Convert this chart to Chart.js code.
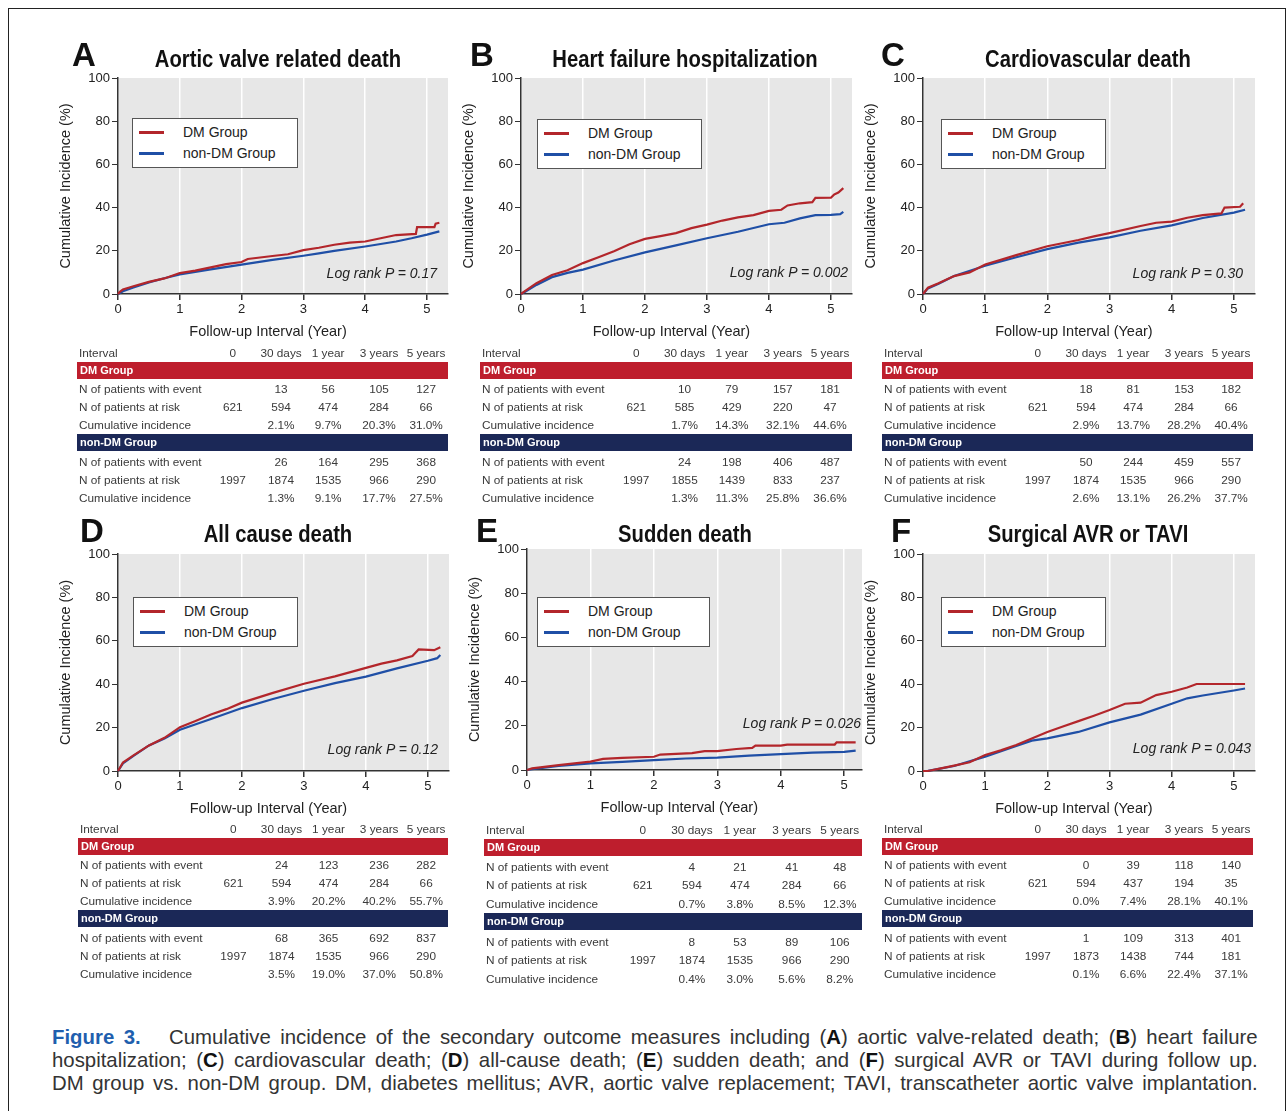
<!DOCTYPE html>
<html>
<head>
<meta charset="utf-8">
<script src="https://cdn.jsdelivr.net/npm/chart.js@4.4.1/dist/chart.umd.min.js"></script>
<style>
  body { margin: 0; background: #fff; width: 1288px; height: 1111px; position: relative; overflow: hidden;
         font-family: "Liberation Sans", Arial, sans-serif; }
  .frame { position: absolute; left: 8px; top: 8px; width: 1276px; height: 1130px; border: 1px solid #222; }
  .abs { position: absolute; white-space: nowrap; line-height: 1; }
  .letter { font-weight: bold; font-size: 33px; color: #111; }
  .ptitle { font-weight: bold; font-size: 23px; color: #111; transform: translate(-50%, -50%) scaleX(0.88); }
  .xtitle { font-size: 14.5px; color: #222; transform: translate(-50%, -50%); }
  .legend { position: absolute; border: 1px solid #555; background: #fff; }
  .legend .sw { position: absolute; left: 6px; width: 25px; height: 2.5px; }
  .legend .lt { position: absolute; left: 50px; font-size: 14px; color: #222; transform: translateY(-50%); line-height: 1; }
  .logrank { font-style: italic; font-size: 14px; color: #222; transform: translateY(-50%); }
  .tt { position: absolute; font-size: 11.8px; color: #3a3a3a; line-height: 1; white-space: nowrap; transform: translateY(-50%); }
  .tc { transform: translate(-50%, -50%); }
  .bar { position: absolute; color: #fff; font-weight: bold; font-size: 11px; }
  .bar span { position: absolute; left: 3px; top: 50%; transform: translateY(-50%); line-height: 1; }
  .caption { position: absolute; left: 52px; width: 1243px; transform: scaleX(0.97); transform-origin: 0 0;
             font-size: 21px; color: #333; line-height: 23px; }
  .caption div { text-align: justify; text-align-last: justify; white-space: nowrap; }
  .caption b { color: #111; }
  .caption .fig { color: #1f5fae; font-weight: bold; }
</style>
</head>
<body>
<div class="frame"></div>
<div id="root"></div>
<script>
// ---- data ----
const intervals = ['0', '30 days', '1 year', '3 years', '5 years'];
const rowLabels = ['N of patients with event', 'N of patients at risk', 'Cumulative incidence'];
const panelLetters = ['A', 'B', 'C', 'D', 'E', 'F'];
const panelTitles = ['Aortic valve related death', 'Heart failure hospitalization', 'Cardiovascular death',
                     'All cause death', 'Sudden death', 'Surgical AVR or TAVI'];
const logRankP = ['0.17', '0.002', '0.30', '0.12', '0.026', '0.043'];

// cumulative incidence curves, [year, %]
const dmA = [[0,0],[0.03,1],[0.08,2.1],[0.25,3.6],[0.5,5.6],[0.75,7.2],[1,9.7],[1.25,10.8],[1.5,12.3],[1.75,13.8],[2,14.8],[2.1,16.2],[2.5,17.6],[2.75,18.4],[3,20.3],[3.25,21.4],[3.5,22.8],[3.75,23.8],[4,24.3],[4.25,25.8],[4.5,27.3],[4.82,27.8],[4.84,31],[5.12,31],[5.14,32.6],[5.2,33]];
const nonA = [[0,0],[0.08,1.3],[0.25,3],[0.5,5.4],[0.75,7.3],[1,9.1],[1.5,11.4],[2,13.6],[2.5,15.8],[3,17.7],[3.25,18.8],[3.5,20],[4,22],[4.5,24.3],[4.75,25.8],[5,27.5],[5.2,29]];
const dmB = [[0,0],[0.08,1.7],[0.25,5],[0.5,8.8],[0.75,11],[1,14.3],[1.25,17],[1.5,19.8],[1.75,23],[2,25.5],[2.25,26.8],[2.5,28.2],[2.75,30.5],[3,32.1],[3.25,34],[3.5,35.5],[3.75,36.5],[4,38.5],[4.2,39],[4.3,41],[4.5,42],[4.7,42.5],[4.75,44.5],[5,44.6],[5.05,46],[5.12,47],[5.2,49]];
const nonB = [[0,0],[0.08,1.3],[0.25,4.2],[0.5,7.8],[0.75,9.8],[1,11.3],[1.5,15.5],[2,19.3],[2.5,22.5],[3,25.8],[3.5,28.8],[4,32.3],[4.25,33],[4.5,35],[4.75,36.5],[5,36.6],[5.15,37],[5.2,38]];
const dmC = [[0,0],[0.08,2.9],[0.25,5],[0.5,8.3],[0.75,10],[1,13.7],[1.25,15.8],[1.5,18],[2,22.1],[2.5,25],[2.75,26.7],[3,28.2],[3.5,31.5],[3.75,33],[4,33.5],[4.25,35.3],[4.5,36.5],[4.8,37.3],[4.85,40],[5.1,40.4],[5.15,42]];
const nonC = [[0,0],[0.08,2.6],[0.25,4.8],[0.5,8.3],[1,13.1],[1.5,17],[2,20.8],[2.5,23.8],[3,26.2],[3.5,29.3],[4,31.8],[4.5,35.2],[5,37.7],[5.18,39]];
const dmD = [[0,0],[0.08,3.9],[0.25,7.2],[0.5,11.8],[0.75,15.3],[1,20.2],[1.25,23],[1.5,26],[1.75,28.5],[2,31.5],[2.5,36],[3,40.2],[3.5,43.6],[4,47.5],[4.25,49.5],[4.5,51],[4.75,53],[4.85,56],[5.1,55.7],[5.2,57]];
const nonD = [[0,0],[0.08,3.5],[0.25,7],[0.5,11.8],[0.75,15],[1,19],[1.5,24],[2,29],[2.5,33.2],[3,37],[3.5,40.5],[4,43.5],[4.5,47.3],[5,50.8],[5.15,52],[5.2,53.5]];
const dmE = [[0,0],[0.08,0.7],[0.5,2.2],[1,3.8],[1.2,5],[1.5,5.5],[2,6],[2.1,7],[2.6,7.6],[2.8,8.5],[3,8.5],[3.3,9.5],[3.55,10],[3.6,11],[4,11],[4.1,11.5],[4.85,11.5],[4.88,12.5],[5.18,12.5]];
const nonE = [[0,0],[0.08,0.4],[0.5,1.8],[1,3],[1.5,3.7],[2,4.5],[2.5,5.2],[3,5.6],[3.5,6.5],[4,7.2],[4.5,7.9],[5,8.2],[5.18,8.8]];
const dmF = [[0,0],[0.08,0],[0.25,1],[0.5,2.5],[0.75,4],[1,7.4],[1.25,9.5],[1.5,12],[1.75,15],[2,18],[2.25,20.5],[2.5,23],[2.75,25.5],[3,28.1],[3.25,31],[3.5,31.5],[3.75,35],[4,36.5],[4.25,38.5],[4.4,40.1],[5.18,40.1]];
const nonF = [[0,0],[0.08,0.1],[0.5,2.3],[1,6.6],[1.5,11.5],[1.75,14],[2,15],[2.5,18],[3,22.4],[3.5,26],[4,31],[4.25,33.5],[4.5,34.8],[5,37.1],[5.18,38]];

// number-at-risk tables: rows = events, at risk, cumulative incidence
const dmTabA = [['', 13, 56, 105, 127], [621, 594, 474, 284, 66], ['', '2.1%', '9.7%', '20.3%', '31.0%']];
const nonTabA = [['', 26, 164, 295, 368], [1997, 1874, 1535, 966, 290], ['', '1.3%', '9.1%', '17.7%', '27.5%']];
const dmTabB = [['', 10, 79, 157, 181], [621, 585, 429, 220, 47], ['', '1.7%', '14.3%', '32.1%', '44.6%']];
const nonTabB = [['', 24, 198, 406, 487], [1997, 1855, 1439, 833, 237], ['', '1.3%', '11.3%', '25.8%', '36.6%']];
const dmTabC = [['', 18, 81, 153, 182], [621, 594, 474, 284, 66], ['', '2.9%', '13.7%', '28.2%', '40.4%']];
const nonTabC = [['', 50, 244, 459, 557], [1997, 1874, 1535, 966, 290], ['', '2.6%', '13.1%', '26.2%', '37.7%']];
const dmTabD = [['', 24, 123, 236, 282], [621, 594, 474, 284, 66], ['', '3.9%', '20.2%', '40.2%', '55.7%']];
const nonTabD = [['', 68, 365, 692, 837], [1997, 1874, 1535, 966, 290], ['', '3.5%', '19.0%', '37.0%', '50.8%']];
const dmTabE = [['', 4, 21, 41, 48], [621, 594, 474, 284, 66], ['', '0.7%', '3.8%', '8.5%', '12.3%']];
const nonTabE = [['', 8, 53, 89, 106], [1997, 1874, 1535, 966, 290], ['', '0.4%', '3.0%', '5.6%', '8.2%']];
const dmTabF = [['', 0, 39, 118, 140], [621, 594, 437, 194, 35], ['', '0.0%', '7.4%', '28.1%', '40.1%']];
const nonTabF = [['', 1, 109, 313, 401], [1997, 1873, 1438, 744, 181], ['', '0.1%', '6.6%', '22.4%', '37.1%']];

const dmCurves = [dmA, dmB, dmC, dmD, dmE, dmF];
const nonCurves = [nonA, nonB, nonC, nonD, nonE, nonF];
const dmTables = [dmTabA, dmTabB, dmTabC, dmTabD, dmTabE, dmTabF];
const nonTables = [nonTabA, nonTabB, nonTabC, nonTabD, nonTabE, nonTabF];

// ---- layout ----
const RED = '#b3262b', BLUE = '#1f4fa6', BAR_RED = '#be1e2d', BAR_NAVY = '#1b2857';
const panels = [
  { plot: {l: 118, t: 78, r: 448, b: 294}, letter: {x: 72, y: 38}, title: {cx: 278, cy: 59}, legend: {x: 132, y: 118, w: 164, h: 48}, lr: {r: 437, cy: 273}, table: {l: 77, t: 354, w: 371, s: 1}, xMax: 5.34 },
  { plot: {l: 521, t: 78, r: 852, b: 294}, letter: {x: 470, y: 38}, title: {cx: 685, cy: 59}, legend: {x: 537, y: 119, w: 163, h: 48}, lr: {r: 848, cy: 272}, table: {l: 480, t: 354, w: 372, s: 1}, xMax: 5.34 },
  { plot: {l: 923, t: 78, r: 1255, b: 294}, letter: {x: 881, y: 38}, title: {cx: 1088, cy: 59}, legend: {x: 941, y: 119, w: 163, h: 48}, lr: {r: 1243, cy: 273}, table: {l: 882, t: 354, w: 371, s: 1}, xMax: 5.34 },
  { plot: {l: 118, t: 554, r: 449, b: 771}, letter: {x: 80, y: 514}, title: {cx: 278, cy: 534}, legend: {x: 133, y: 597, w: 163, h: 48}, lr: {r: 438, cy: 749}, table: {l: 78, t: 830, w: 370, s: 1}, xMax: 5.34 },
  { plot: {l: 527, t: 549, r: 862, b: 770}, letter: {x: 476, y: 514}, title: {cx: 685, cy: 534}, legend: {x: 537, y: 597, w: 171, h: 48}, lr: {r: 861, cy: 723}, table: {l: 484, t: 831, w: 378, s: 1.025}, xMax: 5.28 },
  { plot: {l: 923, t: 554, r: 1255, b: 771}, letter: {x: 891, y: 514}, title: {cx: 1088, cy: 534}, legend: {x: 941, y: 597, w: 163, h: 48}, lr: {r: 1251, cy: 748}, table: {l: 882, t: 830, w: 371, s: 1}, xMax: 5.34 }
];
const colFrac = [0.420, 0.550, 0.677, 0.814, 0.941];

const root = document.getElementById('root');

function el(cls, css, html) {
  const d = document.createElement('div');
  if (cls) d.className = cls;
  Object.assign(d.style, css);
  if (html !== undefined) d.innerHTML = html;
  root.appendChild(d);
  return d;
}

// grey plotting area
const plotBg = {
  id: 'plotBg',
  beforeDraw(chart) {
    const {ctx, chartArea: a} = chart;
    ctx.save();
    ctx.fillStyle = '#e7e7e7';
    ctx.fillRect(a.left, a.top, a.right - a.left, a.bottom - a.top);
    ctx.restore();
  }
};

function makeChart(p, i) {
  const padL = 70, padT = 10, padR = 6, padB = 52;
  const w = p.plot.r - p.plot.l + padL + padR;
  const h = p.plot.b - p.plot.t + padT + padB;
  const box = el('', {position: 'absolute', left: (p.plot.l - padL) + 'px', top: (p.plot.t - padT) + 'px', width: w + 'px', height: h + 'px'});
  const canvas = document.createElement('canvas');
  canvas.width = w; canvas.height = h;
  canvas.style.width = w + 'px'; canvas.style.height = h + 'px';
  box.appendChild(canvas);

  const toXY = arr => arr.map(([x, y]) => ({x, y}));
  new Chart(canvas, {
    type: 'line',
    data: {
      datasets: [
        { label: 'DM Group', data: toXY(dmCurves[i]), borderColor: RED, borderWidth: 2.2, pointRadius: 0, tension: 0, clip: 4 },
        { label: 'non-DM Group', data: toXY(nonCurves[i]), borderColor: BLUE, borderWidth: 2.2, pointRadius: 0, tension: 0, clip: 4 }
      ]
    },
    options: {
      responsive: false,
      animation: false,
      devicePixelRatio: 1,
      layout: { padding: { top: padT, right: padR, left: 0, bottom: 0 } },
      plugins: { legend: { display: false }, tooltip: { enabled: false } },
      scales: {
        x: {
          type: 'linear', min: 0, max: p.xMax,
          afterFit: s => { s.height = padB; },
          ticks: { stepSize: 1, includeBounds: false, color: '#222', font: { size: 13 }, padding: 2, maxRotation: 0 },
          grid: { color: '#ffffff', lineWidth: 1.5, tickColor: '#333', tickLength: 6 },
          border: { color: '#333', width: 1.5 },
          title: { display: false }
        },
        y: {
          min: 0, max: 100,
          afterFit: s => { s.width = padL; },
          ticks: { stepSize: 20, color: '#222', font: { size: 13 }, padding: 2 },
          grid: { drawOnChartArea: false, tickColor: '#333', tickLength: 6 },
          border: { color: '#333', width: 1.5 },
          title: { display: true, text: 'Cumulative Incidence (%)', color: '#222', font: { size: 14.5 }, padding: { top: 9, bottom: 0 } }
        }
      }
    },
    plugins: [plotBg]
  });
  // x-axis title, set slightly left of the plot centre as in the source figure
  el('abs xtitle', {left: (p.plot.l + 150 * (p.plot.r - p.plot.l) / 330) + 'px', top: (p.plot.b + 37) + 'px'}, 'Follow-up Interval (Year)');
}

function makeLegend(p) {
  const lg = p.legend;
  const d = el('legend', {left: lg.x + 'px', top: lg.y + 'px', width: lg.w + 'px', height: lg.h + 'px'});
  [['DM Group', RED, 13], ['non-DM Group', BLUE, 34]].forEach(([lab, col, cy]) => {
    const sw = document.createElement('div');
    sw.className = 'sw'; sw.style.top = (cy - 1) + 'px'; sw.style.background = col;
    d.appendChild(sw);
    const t = document.createElement('div');
    t.className = 'lt'; t.style.top = cy + 'px'; t.textContent = lab;
    d.appendChild(t);
  });
}

function makeTable(p, i) {
  const t = p.table, s = t.s;
  const cell = (txt, x, y, center) => el('tt' + (center ? ' tc' : ''), {left: x + 'px', top: y + 'px'}, String(txt));
  cell('Interval', t.l + 2, t.t, false);
  intervals.forEach((lab, j) => cell(lab, t.l + colFrac[j] * t.w, t.t, true));
  const groups = [['DM Group', BAR_RED, 8, 36, dmTables[i]], ['non-DM Group', BAR_NAVY, 80, 109, nonTables[i]]];
  groups.forEach(([name, col, barOff, rowOff, rows]) => {
    el('bar', {left: t.l + 'px', top: (t.t + barOff * s) + 'px', width: t.w + 'px', height: '16.5px', background: col}, '<span>' + name + '</span>');
    rowLabels.forEach((lab, r) => {
      const y = t.t + (rowOff + 18 * r) * s;
      cell(lab, t.l + 2, y, false);
      rows[r].forEach((v, j) => { if (v !== '') cell(v, t.l + colFrac[j] * t.w, y, true); });
    });
  });
}

panels.forEach((p, i) => {
  makeChart(p, i);
  el('abs letter', {left: p.letter.x + 'px', top: p.letter.y + 'px'}, panelLetters[i]);
  el('abs ptitle', {left: p.title.cx + 'px', top: p.title.cy + 'px'}, panelTitles[i]);
  makeLegend(p);
  el('abs logrank', {right: (1288 - p.lr.r) + 'px', top: p.lr.cy + 'px'}, 'Log rank P = ' + logRankP[i]);
  makeTable(p, i);
});

// caption
el('caption', {top: '1025px'},
  '<div><span class="fig">Figure 3.</span>&nbsp;&nbsp; Cumulative incidence of the secondary outcome measures including (<b>A</b>) aortic valve-related death; (<b>B</b>) heart failure</div>' +
  '<div>hospitalization; (<b>C</b>) cardiovascular death; (<b>D</b>) all-cause death; (<b>E</b>) sudden death; and (<b>F</b>) surgical AVR or TAVI during follow up.</div>' +
  '<div>DM group vs. non-DM group. DM, diabetes mellitus; AVR, aortic valve replacement; TAVI, transcatheter aortic valve implantation.</div>');
</script>
</body>
</html>
